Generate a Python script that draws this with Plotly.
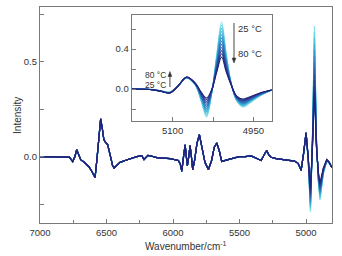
import plotly.graph_objects as go

temps = [25, 30, 35, 40, 45, 50, 55, 60, 65, 70, 75, 80]
colors = ["#86e0e8", "#66d2e2", "#4dc2dc", "#3bb1d6", "#329ed0", "#2e8ac8",
          "#2d76bd", "#2c62b0", "#2b50a2", "#2a3f94", "#283186", "#23237a"]

# main spectrum: shared part (identical for all temperatures)
main_wn = [7000, 6850, 6780, 6754, 6738, 6724, 6708, 6694, 6670, 6649, 6630, 6611,
           6595, 6586, 6570, 6556, 6544, 6532, 6520, 6511, 6491, 6470, 6455, 6443,
           6420, 6398, 6360, 6323, 6273, 6250, 6235, 6218, 6200, 6188, 6173, 6122,
           6022, 5960, 5945, 5934, 5921, 5909, 5900, 5892, 5882, 5872, 5862, 5852,
           5838, 5820, 5802, 5785, 5760, 5734, 5710, 5690, 5671, 5652, 5634, 5600,
           5571, 5521, 5503, 5458, 5413, 5370, 5338, 5315, 5295, 5280, 5263, 5225,
           5188, 5130, 5087, 5060, 5037, 5018, 5000]
main_val = [0.0, 0.0, -0.002, -0.026, 0.0, 0.037, 0.005, -0.016, -0.028, -0.04, -0.055, -0.077,
            -0.10, -0.11, 0.0, 0.12, 0.20, 0.15, 0.09, 0.08, 0.063, 0.0, -0.045, -0.06,
            -0.045, -0.03, -0.02, -0.01, 0.0, 0.003, 0.005, -0.015, 0.0, 0.007, 0.005, -0.005,
            -0.01, -0.02, -0.04, -0.077, 0.0, 0.063, 0.0, -0.047, 0.0, 0.058, 0.0, -0.068,
            -0.02, 0.07, 0.116, 0.06, -0.03, -0.068, -0.02, 0.05, 0.072, 0.03, -0.025, -0.018,
            -0.012, 0.0, 0.0, 0.0, 0.004, -0.01, -0.02, 0.01, 0.033, 0.01, -0.003, -0.01,
            -0.013, -0.018, -0.023, -0.035, -0.072, 0.02, 0.126]

# main spectrum: temperature-dependent band near 4940 cm-1
band_wn = [4984, 4967, 4952, 4937, 4922, 4908, 4895, 4870, 4844, 4825, 4805]
band_val = [
    [-0.020, -0.290, 0.100, 0.690, 0.100, -0.130, -0.230, -0.090, -0.02, -0.035, -0.058],
    [-0.018, -0.279, 0.095, 0.658, 0.095, -0.125, -0.222, -0.087, -0.02, -0.035, -0.058],
    [-0.016, -0.268, 0.091, 0.626, 0.091, -0.121, -0.214, -0.085, -0.02, -0.034, -0.058],
    [-0.015, -0.257, 0.086, 0.595, 0.086, -0.116, -0.205, -0.082, -0.02, -0.034, -0.058],
    [-0.013, -0.246, 0.082, 0.563, 0.082, -0.112, -0.197, -0.079, -0.019, -0.033, -0.058],
    [-0.011, -0.235, 0.077, 0.531, 0.077, -0.107, -0.189, -0.076, -0.018, -0.033, -0.058],
    [-0.009, -0.225, 0.073, 0.499, 0.073, -0.103, -0.181, -0.074, -0.018, -0.032, -0.058],
    [-0.007, -0.214, 0.068, 0.467, 0.068, -0.098, -0.173, -0.071, -0.017, -0.032, -0.058],
    [-0.005, -0.203, 0.064, 0.435, 0.064, -0.094, -0.165, -0.068, -0.017, -0.031, -0.058],
    [-0.004, -0.192, 0.059, 0.404, 0.059, -0.089, -0.156, -0.065, -0.016, -0.031, -0.058],
    [-0.002, -0.181, 0.055, 0.372, 0.055, -0.085, -0.148, -0.063, -0.016, -0.030, -0.058],
    [0.000, -0.170, 0.050, 0.340, 0.050, -0.080, -0.140, -0.060, -0.015, -0.030, -0.058],
]

# inset spectra
inset_wn = [5176, 5142, 5124, 5105, 5090, 5074, 5058, 5047, 5037, 5027, 5018, 5009,
            5001, 4992, 4981, 4969, 4957, 4938, 4916]
inset_val = [
    [0, -0.003, -0.015, -0.030, 0.030, 0.110, 0.040, -0.120, -0.280, -0.030, 0.350, 0.670, 0.380, 0.080, -0.120, -0.180, -0.140, -0.070, -0.010],
    [0, -0.003, -0.015, -0.031, 0.030, 0.111, 0.042, -0.112, -0.263, -0.027, 0.334, 0.638, 0.362, 0.077, -0.115, -0.173, -0.135, -0.067, -0.010],
    [0, -0.003, -0.016, -0.032, 0.030, 0.112, 0.044, -0.104, -0.245, -0.025, 0.317, 0.606, 0.344, 0.075, -0.111, -0.165, -0.129, -0.065, -0.010],
    [0, -0.004, -0.016, -0.033, 0.030, 0.113, 0.045, -0.095, -0.228, -0.022, 0.301, 0.575, 0.325, 0.072, -0.106, -0.158, -0.124, -0.062, -0.010],
    [0, -0.004, -0.017, -0.034, 0.030, 0.114, 0.047, -0.087, -0.211, -0.019, 0.285, 0.543, 0.307, 0.069, -0.102, -0.151, -0.118, -0.059, -0.010],
    [0, -0.004, -0.017, -0.035, 0.030, 0.115, 0.049, -0.079, -0.194, -0.016, 0.268, 0.511, 0.289, 0.066, -0.097, -0.144, -0.113, -0.056, -0.010],
    [0, -0.004, -0.018, -0.035, 0.030, 0.115, 0.051, -0.071, -0.176, -0.014, 0.252, 0.479, 0.271, 0.064, -0.093, -0.136, -0.107, -0.054, -0.010],
    [0, -0.004, -0.018, -0.036, 0.030, 0.116, 0.053, -0.063, -0.159, -0.011, 0.235, 0.447, 0.253, 0.061, -0.088, -0.129, -0.102, -0.051, -0.010],
    [0, -0.005, -0.019, -0.037, 0.030, 0.117, 0.055, -0.055, -0.142, -0.008, 0.219, 0.415, 0.235, 0.058, -0.084, -0.122, -0.096, -0.048, -0.010],
    [0, -0.005, -0.019, -0.038, 0.030, 0.118, 0.056, -0.046, -0.125, -0.005, 0.203, 0.384, 0.216, 0.055, -0.079, -0.115, -0.091, -0.045, -0.010],
    [0, -0.005, -0.020, -0.039, 0.030, 0.119, 0.058, -0.038, -0.107, -0.003, 0.186, 0.352, 0.198, 0.053, -0.075, -0.107, -0.085, -0.043, -0.010],
    [0, -0.005, -0.020, -0.040, 0.030, 0.120, 0.060, -0.030, -0.090, 0.000, 0.170, 0.320, 0.180, 0.050, -0.070, -0.100, -0.080, -0.040, -0.010],
]

main_yticks = [0.0, 0.5]
main_xticks = [7000, 6500, 6000, 5500, 5000]
inset_xticks = [5100, 4950]

FONT = "Liberation Sans, Arial, sans-serif"
TXT = "#333333"
FRAME = "#7a7a7a"
ARROW = "#333333"

fig = go.Figure()

for i, t in enumerate(temps):
    fig.add_trace(go.Scatter(
        x=main_wn + band_wn, y=main_val + band_val[i], mode="lines",
        line=dict(color=colors[i], width=1.2), showlegend=False,
        name=f"{t} °C", xaxis="x", yaxis="y"))

for i, t in enumerate(temps):
    fig.add_trace(go.Scatter(
        x=inset_wn, y=inset_val[i], mode="lines",
        line=dict(color=colors[i], width=1.1, shape="spline", smoothing=1.0),
        showlegend=False, name=f"{t} °C", xaxis="x2", yaxis="y2"))

axis_common = dict(showgrid=False, zeroline=False, showline=True, mirror=True,
                   linecolor=FRAME, linewidth=1.2, ticks="inside", ticklen=4,
                   tickcolor=FRAME, automargin=False,
                   tickfont=dict(size=9.5, color=TXT, family=FONT))

fig.update_layout(
    width=342, height=256,
    margin=dict(l=40, r=10, t=7, b=33, autoexpand=False),
    paper_bgcolor="white", plot_bgcolor="white",
    font=dict(family=FONT, color=TXT, size=9.5),
    xaxis=dict(range=[7000, 4805], tickvals=main_xticks,
               minor=dict(dtick=250, tick0=7000, ticks="inside", ticklen=3, tickcolor=FRAME),
               **axis_common),
    yaxis=dict(range=[-0.35, 0.79], tickvals=main_yticks, tickformat=".1f",
               minor=dict(dtick=0.25, tick0=0, ticks="inside", ticklen=4, tickcolor=FRAME),
               **axis_common),
    xaxis2=dict(domain=[0.314, 0.7935], anchor="y2", range=[5176, 4916],
                tickvals=inset_xticks,
                minor=dict(dtick=75, tick0=4950, ticks="inside", ticklen=4, tickcolor=FRAME),
                **axis_common),
    yaxis2=dict(domain=[0.472, 0.963], anchor="x2", range=[-0.32, 0.74],
                dtick=0.4, tick0=0, tickformat=".1f",
                minor=dict(dtick=0.2, tick0=0, ticks="inside", ticklen=4, tickcolor=FRAME),
                **axis_common),
)

# axis titles
fig.add_annotation(xref="paper", yref="paper", x=0.5, y=-0.106, text="Wavenumber/cm<sup>-1</sup>",
                   showarrow=False, xanchor="center", yanchor="middle",
                   font=dict(size=10, color=TXT, family=FONT))
fig.add_annotation(xref="paper", yref="paper", x=-0.079, y=0.5, text="Intensity",
                   showarrow=False, textangle=-90, xanchor="center", yanchor="middle",
                   font=dict(size=10, color=TXT, family=FONT))

# temperature arrows in the inset (shaft + head)
fig.add_shape(type="line", xref="x2", yref="y2", x0=4986, x1=4986, y0=0.66, y1=0.30,
              line=dict(color=ARROW, width=0.9))
fig.add_shape(type="path", xref="x2", yref="y2",
              path="M 4989.5,0.31 L 4982.5,0.31 L 4986,0.26 Z",
              fillcolor=ARROW, line=dict(color=ARROW, width=0.5))
fig.add_shape(type="line", xref="x2", yref="y2", x0=5105, x1=5105, y0=0.02, y1=0.13,
              line=dict(color=ARROW, width=0.9))
fig.add_shape(type="path", xref="x2", yref="y2",
              path="M 5108.5,0.125 L 5101.5,0.125 L 5105,0.175 Z",
              fillcolor=ARROW, line=dict(color=ARROW, width=0.5))

# temperature labels in the inset
fig.add_annotation(xref="x2", yref="y2", x=4982, y=0.61, text="25 °C", showarrow=False,
                   xanchor="left", font=dict(size=9.5, color=TXT, family=FONT))
fig.add_annotation(xref="x2", yref="y2", x=4982, y=0.36, text="80 °C", showarrow=False,
                   xanchor="left", font=dict(size=9.5, color=TXT, family=FONT))
fig.add_annotation(xref="x2", yref="y2", x=5108, y=0.145, text="80 °C", showarrow=False,
                   xanchor="right", font=dict(size=8.5, color=TXT, family=FONT))
fig.add_annotation(xref="x2", yref="y2", x=5108, y=0.04, text="25 °C", showarrow=False,
                   xanchor="right", font=dict(size=8.5, color=TXT, family=FONT))

fig.write_html("out.html", config={"displayModeBar": False},
               post_script="document.body.style.margin='0';document.body.style.padding='0';")
